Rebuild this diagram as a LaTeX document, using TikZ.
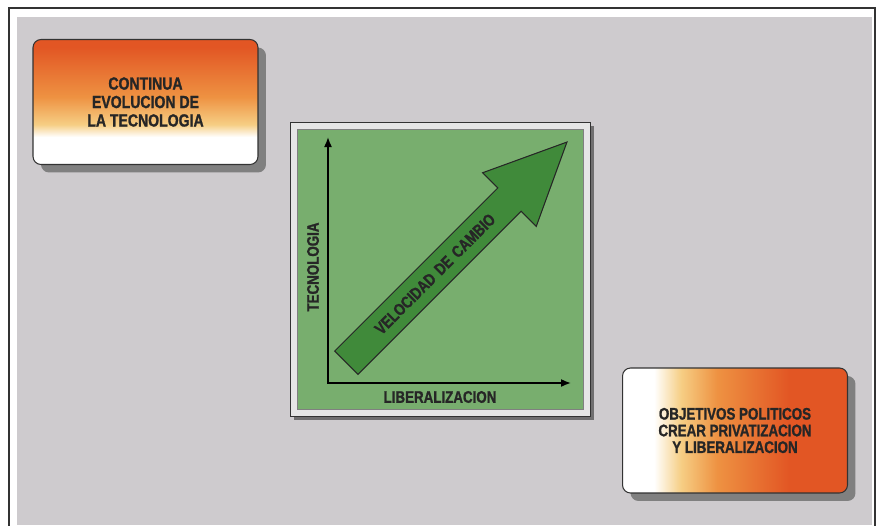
\documentclass[tikz,border=0pt]{standalone}
\usepackage{fontspec}
\setmainfont{Liberation Sans}[FakeStretch=0.8, BoldFeatures={FakeBold=1.2}]
\usetikzlibrary{positioning,arrows.meta,shapes.arrows,shadows}

\definecolor{panelgrey}{RGB}{206,203,206}
\definecolor{boxorange}{RGB}{226,86,36}
\definecolor{boxamber}{RGB}{238,146,66}
\definecolor{boxyellow}{RGB}{246,206,132}
\definecolor{chartgreen}{RGB}{120,174,110}
\definecolor{arrowgreen}{RGB}{64,138,58}
\definecolor{framegrey}{RGB}{230,230,230}

\pgfdeclareverticalshading{evolshade}{100bp}{color(0bp)=(white); color(25bp)=(white); color(36bp)=(white); color(41bp)=(boxyellow); color(52bp)=(boxamber); color(72bp)=(boxorange); color(100bp)=(boxorange)}
\pgfdeclarehorizontalshading{politshade}{100bp}{color(0bp)=(white); color(25bp)=(white); color(32bp)=(white); color(38bp)=(boxyellow); color(46bp)=(boxamber); color(62bp)=(boxorange); color(100bp)=(boxorange)}

\begin{document}
\begin{tikzpicture}[x=0.02cm,y=-0.02cm,
  capstext/.style={font=\fontsize{9.5}{9.5}\selectfont\bfseries, text=black!85, align=center},
  infobox/.style={rounded corners=0.16cm, draw=black!80, line width=0.6pt, minimum width=4.5cm, minimum height=2.5cm, drop shadow={shadow xshift=0.16cm, shadow yshift=-0.16cm, fill=black!55, opacity=0.85}, capstext},
  axis/.style={line width=0.9pt, {Latex[length=2mm,width=1.6mm]}-{Latex[length=2mm,width=1.6mm]}}]
\useasboundingbox (0,0) rectangle (882,525);
\fill[white] (0,0) rectangle (882,525);
\draw[black!80, line width=0.8pt] (9,8) rectangle (875,540);
\fill[panelgrey] (17,17) rectangle (872,525);

% boxes
\node[infobox, shading=evolshade, font=\fontsize{10}{10.5}\selectfont\bfseries] (evol) at (145.5,102) {CONTINUA\\EVOLUCION DE\\LA TECNOLOGIA};
\node[infobox, shading=politshade] (polit) at (735,430.5) {OBJETIVOS POLITICOS\\CREAR PRIVATIZACION\\Y LIBERALIZACION};

% chart
\node[draw=black!80, fill=framegrey, minimum width=6cm, minimum height=5.88cm, drop shadow={shadow xshift=0.08cm, shadow yshift=-0.08cm, fill=black!60, opacity=0.9}] (chart) at (440,269) {};
\node[draw=black!50, fill=chartgreen, minimum width=5.72cm, minimum height=5.6cm] (plot) at (chart.center) {};
\coordinate (origin) at (328,383);
\coordinate (ytip) at (328,137);
\coordinate (xtip) at (571,383);
\draw[axis] (ytip) -- (origin) -- (xtip);
\node[capstext, rotate=90] (ylab) at (313,267) {TECNOLOGIA};
\node[capstext] (xlab) at (440,397) {LIBERALIZACION};
\node[single arrow, draw=black!85, line width=0.6pt, fill=arrowgreen, rotate=45, anchor=tail,
  single arrow tip angle=50, single arrow head extend=0.43cm, inner xsep=0pt, inner ysep=5.7pt,
  minimum height=6.24cm, text width=3.4cm, capstext] (speed) at (346,363) {\hspace*{-0.52cm}VELOCIDAD DE CAMBIO};
\end{tikzpicture}
\end{document}
